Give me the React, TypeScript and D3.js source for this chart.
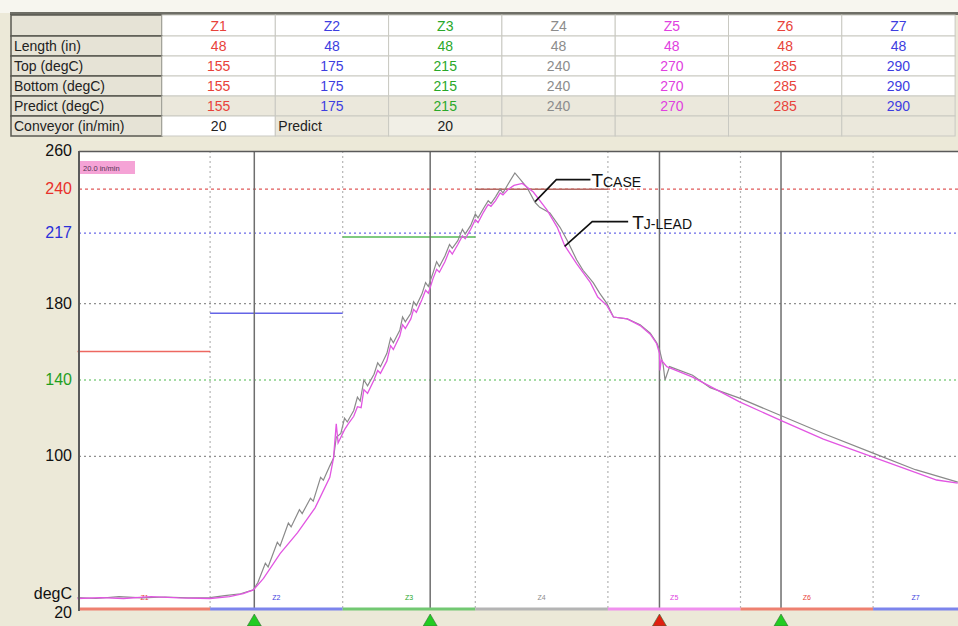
import React from 'react';
import * as d3 from 'd3';

// zone table
const zones = ['Z1', 'Z2', 'Z3', 'Z4', 'Z5', 'Z6', 'Z7'];
const zoneColors = ['#e8423a', '#3d3de0', '#2aa82a', '#8c8c8c', '#e040e0', '#e8423a', '#3d3de0'];
const zoneBarColors = ['#ee8070', '#7c84ec', '#72c872', '#b4b4b4', '#f090ee', '#ee8070', '#7c84ec'];
const lengths = [48, 48, 48, 48, 48, 48, 48];
const topTemps = [155, 175, 215, 240, 270, 285, 290];
const bottomTemps = [155, 175, 215, 240, 270, 285, 290];
const predictTemps = [155, 175, 215, 240, 270, 285, 290];
const conveyor = 20;
const rowLabels = ['Length (in)', 'Top (degC)', 'Bottom (degC)', 'Predict (degC)', 'Conveyor (in/min)'];

// y axis
const yTicks = [260, 240, 217, 180, 140, 100, 20];
const yTickColors = ['#111', '#e8302a', '#2a30d8', '#111', '#1e9e1e', '#111', '#111'];
const gridLines = [240, 217, 180, 140, 100];
const gridColors = ['#e05a5a', '#6a6ae8', '#909090', '#4cb84c', '#909090'];

// markers (seconds)
const markerTimes = [192, 383, 632, 764];
const markerColors = ['#22cc22', '#22cc22', '#e02010', '#22cc22'];

// profiles [seconds, degC]
const tCase: [number, number][] = [
  [0, 26], [20, 25.5], [45, 26.5], [70, 25.8], [95, 26.3], [120, 25.8], [144, 26], [160, 27], [177, 28], [191, 30],
  [196, 34], [204, 44], [207, 42], [217, 55], [220, 53], [229, 65], [232, 63], [241, 72], [244, 70], [253, 78],
  [256, 76.5], [264, 89], [267, 87.5], [274, 95], [278, 99],
  [281, 110], [286, 112], [290, 120], [293, 118], [300, 124], [304, 131], [307, 129], [311, 140], [315, 137], [322, 143],
  [326, 149], [329, 147], [336, 154], [340, 162], [343, 159.5], [350, 166], [353, 173], [356, 170.5], [362, 175], [365, 181],
  [368, 179], [374, 185], [378, 191], [381, 189], [386, 196], [390, 202], [393, 199.5], [399, 205], [404, 211], [407, 209],
  [413, 213], [418, 219], [421, 216.5], [427, 221], [432, 227], [435, 225], [441, 230], [446, 234], [449, 232.5], [454, 236],
  [459, 240], [462, 238], [468, 243], [475, 248.5],
  [488, 241], [497, 233], [502, 230.5], [513, 227.5], [524, 220], [532, 213], [542, 203], [549, 197.5], [560, 191],
  [567, 185.5], [575, 180], [582, 173], [597, 172], [611, 169], [622, 164.5], [629, 159.5], [632, 156], [636, 148],
  [638, 140], [643, 147], [668, 142.5], [687, 136], [719, 130.5], [763, 121.5], [810, 112], [864, 101.7], [910, 93],
  [956, 86.5],
];
const tLead: [number, number][] = [
  [0, 25.5], [25, 26], [50, 25.5], [80, 26.5], [110, 25.8], [144, 25.5], [165, 26.5], [180, 28], [191, 30],
  [202, 36], [220, 49], [239, 60], [258, 73], [274, 89], [278, 99], [281, 117], [283, 107],
  [290, 114], [294, 117], [300, 121], [304, 126], [308, 125.5], [311, 135], [315, 133], [322, 140], [326, 145], [329, 143.5],
  [336, 150], [340, 158], [343, 156], [350, 163], [353, 169], [356, 167], [362, 172], [365, 177], [368, 175.5], [374, 182],
  [378, 187], [381, 185.5], [386, 193], [390, 198], [393, 196.5], [399, 202], [404, 208], [407, 206], [413, 211], [418, 215.5],
  [421, 214], [427, 219], [432, 224], [435, 222.5], [441, 228], [446, 232], [449, 231], [454, 234], [459, 238], [462, 237],
  [468, 240], [474, 242], [483, 243],
  [495, 238.5], [510, 229], [521, 220], [529, 210.5], [542, 201], [557, 191], [565, 183.5], [575, 179], [582, 173],
  [597, 172], [611, 168.5], [622, 164], [629, 159], [632, 154], [632.5, 145], [634, 150.5], [640, 147], [668, 141.5],
  [719, 128.5], [763, 119], [810, 109], [864, 99.6], [933, 87.6], [956, 86],
];

// annotation leader lines [seconds, degC]
const caseLeader: [number, number][] = [[497, 233.5], [520, 245], [557, 245]];
const leadLeader: [number, number][] = [[529, 210], [559, 223], [598, 223]];

const W = 958;
const H = 626;
const beige = '#ece9d8';
const font = '"Liberation Sans", Arial, sans-serif';

export default function App() {
  const zoneSec = (lengths[0] / conveyor) * 60;
  const x = d3.scaleLinear().domain([0, zoneSec * 7]).range([77.5, 77.5 + 132.6 * 7]);
  const y = d3.scaleLinear().domain([20, 260]).range([609, 151]);
  const line = d3.line<[number, number]>().x(d => x(d[0])).y(d => y(d[1]));

  const plotL = 79;
  const plotT = 151;
  const plotB = 609;

  // table geometry
  const colX = d3.range(8).map(i => 162 + i * 113.3);
  const rowY = [15, 36, 56, 76, 96, 116, 136];
  const rows = [lengths, topTemps, bottomTemps, predictTemps];

  return (
    <svg width={W} height={H} style={{ position: 'absolute', left: 0, top: 0 }} fontFamily={font}>
      <rect width={W} height={H} fill={beige} />
      <rect width={W} height={13} fill="#f7f6ef" />
      <rect x={10} y={12} width={W - 10} height={3} fill="#6e6e66" />

      {/* table */}
      {rowY.slice(0, 6).map((ry, r) => (
        <g key={'row' + r}>
          <rect x={11} y={ry} width={151} height={rowY[r + 1] - ry} fill="#e6e3d6" stroke="#5a5a52" strokeWidth={1.5} />
          {r > 0 && (
            <text x={14} y={ry + 15} fontSize={14} fill="#222">{rowLabels[r - 1]}</text>
          )}
          {zones.map((z, i) => {
            let fill = '#ffffff';
            if (r === 4) fill = '#ebe8dc';
            if (r === 5) fill = i === 0 ? '#ffffff' : i === 2 ? '#f1efe6' : '#ebe8dc';
            return (
              <rect key={z} x={colX[i]} y={ry} width={colX[i + 1] - colX[i]} height={rowY[r + 1] - ry}
                fill={fill} stroke="#c9c9c2" strokeWidth={1} />
            );
          })}
        </g>
      ))}
      {zones.map((z, i) => (
        <text key={'h' + z} x={(colX[i] + colX[i + 1]) / 2} y={31} fontSize={14} textAnchor="middle" fill={zoneColors[i]}>{z}</text>
      ))}
      {rows.map((vals, r) => vals.map((v, i) => (
        <text key={'c' + r + i} x={(colX[i] + colX[i + 1]) / 2} y={rowY[r + 1] + 15} fontSize={14}
          textAnchor="middle" fill={zoneColors[i]}>{v}</text>
      )))}
      <text x={(colX[0] + colX[1]) / 2} y={131} fontSize={14} textAnchor="middle" fill="#222">{conveyor}</text>
      <text x={colX[1] + 3} y={131} fontSize={14} fill="#222">Predict</text>
      <text x={(colX[2] + colX[3]) / 2} y={131} fontSize={14} textAnchor="middle" fill="#222">{conveyor}</text>

      {/* plot area */}
      <rect x={plotL} y={plotT} width={W - plotL} height={plotB - plotT} fill="#fff" />

      {/* vertical zone gridlines */}
      {d3.range(1, 7).map(k => (
        <line key={'vz' + k} x1={x(k * zoneSec)} x2={x(k * zoneSec)} y1={plotT} y2={plotB}
          stroke="#b4b4b4" strokeWidth={1.2} strokeDasharray="2 3" />
      ))}
      {/* horizontal gridlines */}
      {gridLines.map((g, i) => (
        <line key={'hg' + g} x1={plotL} x2={W} y1={y(g)} y2={y(g)} stroke={gridColors[i]}
          strokeWidth={1.2} strokeDasharray={i === 0 ? '3 3' : '2 3'} />
      ))}

      {/* zone setpoints */}
      {topTemps.map((t, i) => t <= 260 && (
        <line key={'sp' + i} x1={x(i * zoneSec)} x2={x((i + 1) * zoneSec)} y1={y(t)} y2={y(t)}
          stroke={i === 3 ? '#b46a64' : zoneColors[i]} strokeOpacity={i === 3 ? 1 : 0.8} strokeWidth={1.5} />
      ))}

      {/* markers */}
      {markerTimes.map((m, i) => (
        <line key={'mk' + i} x1={x(m)} x2={x(m)} y1={plotT} y2={plotB + 1} stroke="#6e6e6e" strokeWidth={1.5} />
      ))}

      {/* zone bar & labels */}
      {zones.map((z, i) => {
        const x0 = x(i * zoneSec);
        const x1 = Math.min(x((i + 1) * zoneSec), W);
        return (
          <g key={'zb' + z}>
            <line x1={Math.max(x0, plotL)} x2={x1} y1={609} y2={609} stroke={zoneBarColors[i]} strokeWidth={3} />
            <text x={(Math.max(x0, plotL) + x1) / 2} y={600} fontSize={7} textAnchor="middle" fill={zoneColors[i]}>{z}</text>
          </g>
        );
      })}

      {/* curves */}
      <path d={line(tCase) || ''} fill="none" stroke="#8a8a8a" strokeWidth={1.2} />
      <path d={line(tLead) || ''} fill="none" stroke="#e256e2" strokeWidth={1.3} />

      {/* plot borders */}
      <line x1={plotL} x2={W} y1={plotT + 0.5} y2={plotT + 0.5} stroke="#5a5a5a" strokeWidth={1.5} />
      <line x1={plotL} x2={plotL} y1={plotT} y2={plotB + 2} stroke="#5a5a5a" strokeWidth={2} />

      {/* triangles */}
      {markerTimes.map((m, i) => (
        <path key={'tri' + i} d={`M${x(m)},614 L${x(m) + 7},626 L${x(m) - 7},626 Z`}
          fill={markerColors[i]} stroke="#3a6a3a" strokeWidth={0.6} />
      ))}

      {/* y axis labels */}
      {yTicks.map((t, i) => (
        <text key={'yt' + t} x={72} y={y(t) + (t === 20 ? 9 : 5)} fontSize={16} textAnchor="end" fill={yTickColors[i]}>{t}</text>
      ))}
      <text x={72} y={599} fontSize={16} textAnchor="end" fill="#111">degC</text>

      {/* speed label */}
      <rect x={80} y={161} width={55} height={13} fill="#f5a3d6" />
      <text x={83} y={170.5} fontSize={7.5} fill="#553355">20.0 in/min</text>

      {/* annotations */}
      <path d={line(caseLeader) || ''} fill="none" stroke="#111" strokeWidth={1.6} />
      <path d={line(leadLeader) || ''} fill="none" stroke="#111" strokeWidth={1.6} />
      <text x={x(caseLeader[2][0]) + 1} y={y(caseLeader[2][1]) + 7} fill="#111">
        <tspan fontSize={19}>T</tspan><tspan fontSize={14}>CASE</tspan>
      </text>
      <text x={x(leadLeader[2][0]) + 4} y={y(leadLeader[2][1]) + 7} fill="#111">
        <tspan fontSize={19}>T</tspan><tspan fontSize={14}>J-LEAD</tspan>
      </text>
    </svg>
  );
}
